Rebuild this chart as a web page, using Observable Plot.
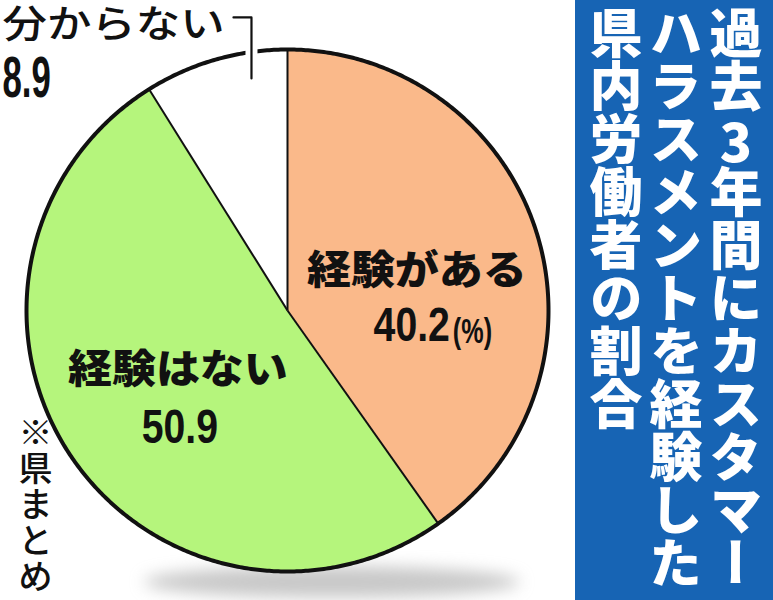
<!DOCTYPE html>
<html lang="ja">
<head>
<meta charset="utf-8">
<script src="https://cdn.jsdelivr.net/npm/d3@7"></script>
<script src="https://cdn.jsdelivr.net/npm/@observablehq/plot@0.6"></script>
<style>
  html, body { margin: 0; padding: 0; background: #fff; }
  #figure { display: flex; width: 773px; height: 600px; overflow: hidden; }
  #chart { width: 575px; height: 600px; }
  #title {
    width: 198px; height: 600px; box-sizing: border-box;
    padding: 6px 7px 0 0;
    background: #1764b4; color: #fff;
    writing-mode: vertical-rl;
    font-family: "Noto Sans CJK JP", sans-serif; font-weight: 900;
    font-size: 53px; line-height: 60px; white-space: nowrap;
  }
  #title .tcy { text-combine-upright: all; }
</style>
</head>
<body>
<div id="figure">
  <div id="chart"></div>
  <div id="title">過去<span class="tcy">3</span>年間にカスタマー<br>ハラスメントを経験した<br>県内労働者の割合</div>
</div>
<script>
// Survey answers (percent of respondents)
const categories = ["経験がある", "経験はない", "分からない"];
const shares = [40.2, 50.9, 8.9];
const valueLabels = ["40.2", "50.9", "8.9"];
const sliceColors = ["#fab98a", "#b5f57c", "#ffffff"];
const unitLabel = "(%)";
const sourceNote = "※県まとめ";

const W = 575, H = 600;
const margin = {marginTop: 49, marginRight: 27, marginBottom: 29, marginLeft: 26};
const JP = "'Noto Sans CJK JP', sans-serif";
const NUM = "'Liberation Sans', Arial, sans-serif";

// Slices run clockwise from 12 o'clock, in data order
const slices = d3.pie().sort(null).value(d => d.share)(
  categories.map((category, i) => ({category, share: shares[i], value: valueLabels[i]}))
).map(s => ({
  category: s.data.category, value: s.data.value,
  start: s.startAngle, end: s.endAngle, mid: (s.startAngle + s.endAngle) / 2
}));

// angle (radians, clockwise from top) and radius -> x/y in pie-radius units
const polar = (a, r = 1) => [r * Math.sin(a), r * Math.cos(a)];
const STEP = Math.PI / 360;
function arcPoints(a0, a1, rx = 1, ry = rx, cx = 0, cy = 0) {
  const n = Math.max(2, Math.ceil((a1 - a0) / STEP));
  return d3.range(n + 1).map(i => {
    const a = a0 + (a1 - a0) * i / n;
    return {x: cx + rx * Math.sin(a), y: cy + ry * Math.cos(a)};
  });
}

const wedges = slices.flatMap(s =>
  [{x: 0, y: 0}, ...arcPoints(s.start, s.end), {x: 0, y: 0}].map(p => ({...p, category: s.category}))
);
const rim = arcPoints(0, 2 * Math.PI);
// soft shadow under the pie
const shadow = arcPoints(0, 2 * Math.PI, 0.72, 0.06, 0.17, -1.04);
// bracket leader beside the outside label
const leader = [{x: -0.207, y: 1.123}, {x: -0.138, y: 1.123}, {x: -0.138, y: 0.889}];

// label placement: anchor on the slice's mid-angle at radius r, nudged in pixels
const labelLayout = {
  "経験がある": {r: 0.5, inside: true,  name: [5, 0],      nameAnchor: "middle", value: [38, 70],   valueAnchor: "end"},
  "経験はない": {r: 0.5, inside: true,  name: [-1, -13],   nameAnchor: "middle", value: [1, 60],    valueAnchor: "middle"},
  "分からない": {r: 1.0, inside: false, name: [-213, -35], nameAnchor: "start",  value: [-213, 37], valueAnchor: "start"}
};

const labelMarks = slices.flatMap(s => {
  const L = labelLayout[s.category];
  const [ax, ay] = polar(s.mid, L.r);
  const at = {x: () => ax, y: () => ay};
  const marks = [
    Plot.text([s.category], {
      ...at, text: d => d, dx: L.name[0], dy: L.name[1],
      textAnchor: L.nameAnchor, lineAnchor: "middle", fill: "#111",
      fontFamily: JP, fontSize: L.inside ? 40 : 38, fontWeight: L.inside ? 900 : 500,
      ariaDescription: `sx:${L.inside ? 1.1 : 1.17}`
    }),
    Plot.text([s.value], {
      ...at, text: d => d, dx: L.value[0], dy: L.value[1],
      textAnchor: L.valueAnchor, lineAnchor: "bottom", fill: "#111",
      fontFamily: NUM, fontSize: L.inside ? 49 : 58, fontWeight: 700,
      ariaDescription: `sx:${L.inside ? 0.8 : 0.6}`
    })
  ];
  if (L.valueAnchor === "end") {
    marks.push(Plot.text([unitLabel], {
      ...at, text: d => d, dx: L.value[0] + 3, dy: L.value[1] + 2,
      textAnchor: "start", lineAnchor: "bottom", fill: "#111",
      fontFamily: NUM, fontSize: 35, fontWeight: 700, ariaDescription: "sx:0.72"
    }));
  }
  return marks;
});

const plot = Plot.plot({
  width: W, height: H, ...margin,
  x: {domain: [-1, 1], axis: null},
  y: {domain: [-1, 1], axis: null},
  color: {domain: categories, range: sliceColors},
  style: {background: "transparent", overflow: "visible"},
  marks: [
    Plot.line(shadow, {x: "x", y: "y", fill: "#9a9a9a", fillOpacity: 0.55, stroke: "none", ariaDescription: "shadow"}),
    Plot.line(wedges, {x: "x", y: "y", z: "category", fill: "category", stroke: "none"}),
    Plot.link(slices, {
      x1: () => 0, y1: () => 0,
      x2: d => polar(d.start)[0], y2: d => polar(d.start)[1],
      stroke: "#111", strokeWidth: 2
    }),
    Plot.line(rim, {x: "x", y: "y", stroke: "#111", strokeWidth: 4}),
    Plot.line(leader, {x: "x", y: "y", stroke: "#fff", strokeWidth: 12}),
    Plot.line(leader, {x: "x", y: "y", stroke: "#111", strokeWidth: 2.2}),
    ...labelMarks,
    Plot.text([sourceNote], {
      text: d => [...d].join("\n"), frameAnchor: "left", dx: -8, dy: 109,
      lineAnchor: "top", lineHeight: 1.06, fill: "#111",
      fontFamily: JP, fontSize: 34, fontWeight: 500
    })
  ]
});

// horizontal stretch / condense of label glyphs
plot.querySelectorAll("g[aria-description^='sx:']").forEach(g => {
  const k = +g.getAttribute("aria-description").slice(3);
  g.querySelectorAll("text").forEach(t => {
    t.setAttribute("transform", `${t.getAttribute("transform") || ""} scale(${k},1)`);
  });
});
plot.querySelectorAll("g[aria-description='shadow']").forEach(g => {
  g.style.filter = "blur(8px)";
});

document.getElementById("chart").append(plot);
</script>
</body>
</html>
